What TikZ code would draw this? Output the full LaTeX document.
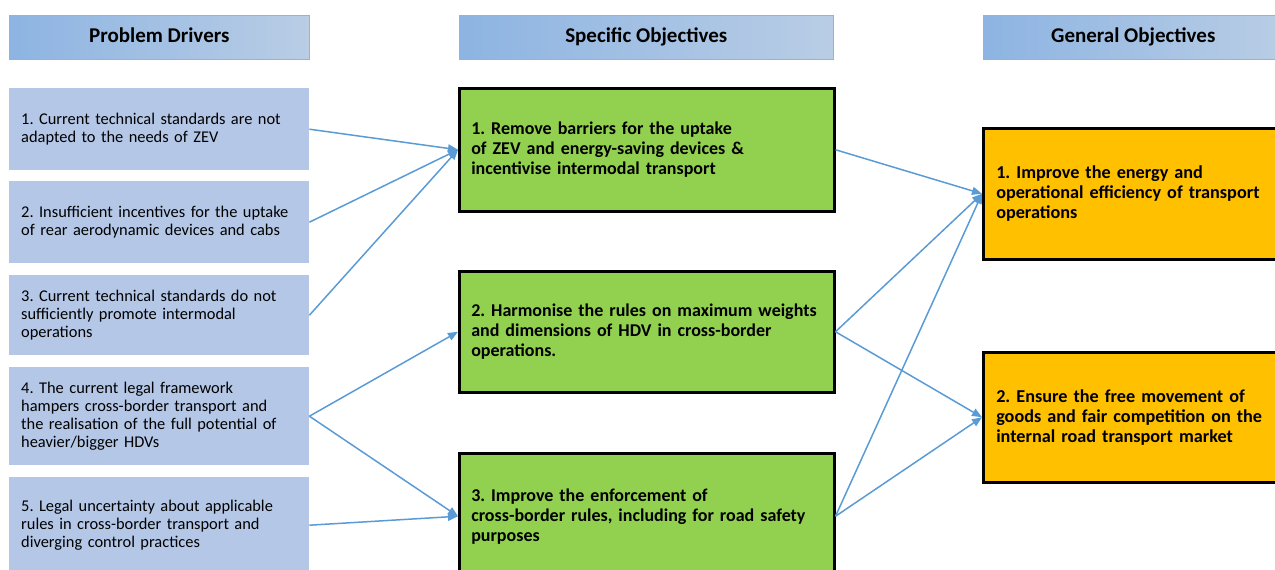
\documentclass[tikz,border=0pt]{standalone}
\usepackage{fontspec}
\setmainfont{Carlito}
\usepackage{tikz}
\usetikzlibrary{arrows.meta}
\frenchspacing
\definecolor{hdrdark}{RGB}{141,180,226}
\definecolor{hdrlight}{RGB}{185,205,229}
\definecolor{drvfill}{RGB}{180,199,231}
\definecolor{objgreen}{RGB}{146,208,80}
\definecolor{objorange}{RGB}{255,192,0}
\definecolor{arrblue}{RGB}{91,155,213}
\tikzset{
	hdr/.style={anchor=north west,left color=hdrdark,right color=hdrlight,draw=hdrdark,line width=0.6pt,minimum height=44pt,text height=15pt,text depth=4pt,font=\fontsize{21}{24}\selectfont\bfseries},
	drv/.style={anchor=north west,fill=drvfill,text width=276pt,inner xsep=12pt,align=left,font=\fontsize{16.4}{18.3}\selectfont},
	spec/.style={anchor=north west,fill=objgreen,draw=black,line width=2.5pt,text width=351pt,inner xsep=12pt,align=left,font=\fontsize{18}{20}\selectfont\bfseries},
	gen/.style={anchor=north west,fill=objorange,draw=black,line width=2.5pt,text width=290pt,inner xsep=13pt,align=left,font=\fontsize{18.2}{20}\selectfont\bfseries},
	link/.style={->,color=arrblue,line width=1.5pt}
}
\begin{document}
\begin{tikzpicture}[x=1pt,y={(0pt,-1pt)},>={Triangle[length=10pt,width=8pt]}]
	\useasboundingbox (0,0) rectangle (1275,570);
	\clip (0,0) rectangle (1275,570);
	\node[hdr,minimum width=300pt] (hdrdrv) at (9,15) {Problem Drivers};
	\node[hdr,minimum width=374pt] (hdrspec) at (459,15) {Specific Objectives};
	\node[hdr,minimum width=300pt] (hdrgen) at (983,15) {General Objectives};
	\node[drv,minimum height=82pt] (drv1) at (9,88) {1. Current technical standards are not\\adapted to the needs of ZEV};
	\node[drv,minimum height=82pt] (drv2) at (9,181) {2. Insufficient incentives for the uptake\\of rear aerodynamic devices and cabs};
	\node[drv,minimum height=80pt] (drv3) at (9,275) {3. Current technical standards do not\\sufficiently promote intermodal\\operations};
	\node[drv,minimum height=98pt] (drv4) at (9,367) {4. The current legal framework\\hampers cross-border transport and\\the realisation of the full potential of\\heavier/bigger HDVs};
	\node[drv,minimum height=96pt] (drv5) at (9,477) {5. Legal uncertainty about applicable\\rules in cross-border transport and\\diverging control practices};
	\node[spec,minimum height=123pt] (spec1) at (458,87) {1. Remove barriers for the uptake\\of ZEV and energy-saving devices \&\\incentivise intermodal transport};
	\node[spec,minimum height=121pt] (spec2) at (458,270) {2. Harmonise the rules on maximum weights\\and dimensions of HDV in cross-border\\operations.};
	\node[spec,minimum height=126pt] (spec3) at (458,452) {3. Improve the enforcement of\\cross-border rules, including for road safety\\purposes};
	\node[gen,minimum height=131pt] (gen1) at (982,127) {1. Improve the energy and\\operational efficiency of transport\\operations};
	\node[gen,minimum height=130pt] (gen2) at (982,351) {2. Ensure the free movement of\\goods and fair competition on the\\internal road transport market};
	\foreach \s/\t in {drv1/spec1,drv2/spec1,drv3/spec1,drv4/spec2,drv4/spec3,drv5/spec3,spec1/gen1,spec2/gen1,spec2/gen2,spec3/gen1,spec3/gen2}
		\draw[link] (\s.east) -- (\t.west);
\end{tikzpicture}
\end{document}
